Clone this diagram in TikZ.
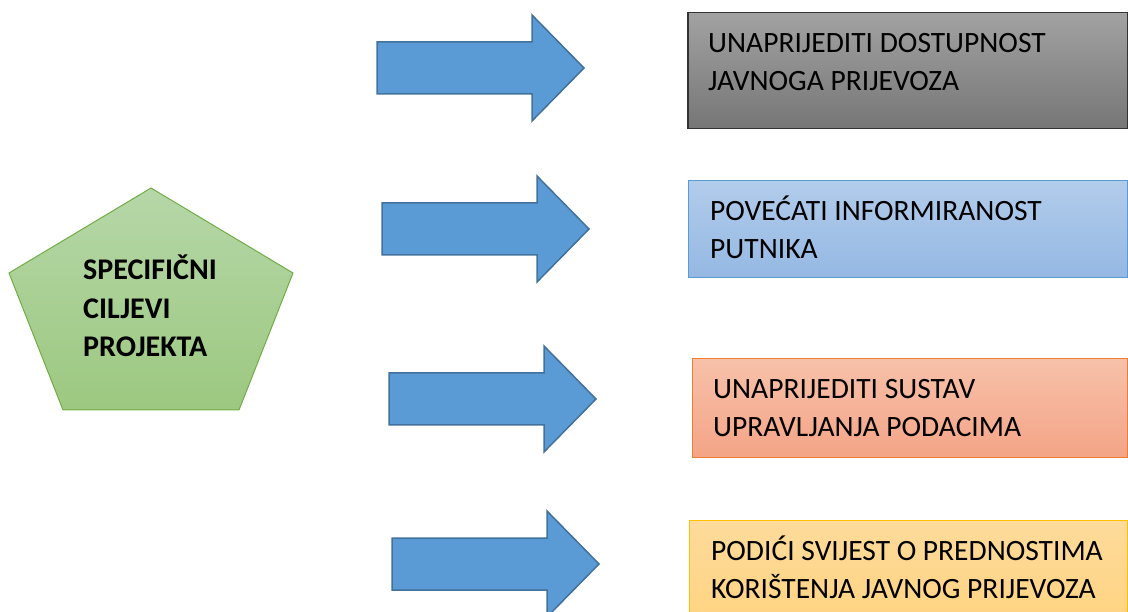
\documentclass[tikz,border=0pt]{standalone}
\usepackage{fontspec}
\setmainfont{Carlito}
\usepackage{tikz}
\usetikzlibrary{calc,positioning}

\definecolor{arrowfill}{HTML}{5B9BD5}
\definecolor{arrowline}{HTML}{41719C}
\definecolor{grayline}{HTML}{333333}
\definecolor{blueline}{HTML}{5B9BD5}
\definecolor{orangeline}{HTML}{ED7D31}
\definecolor{goldline}{HTML}{FFC000}
\definecolor{greenline}{HTML}{70AD47}
\newcommand{\goalstrut}{\rule{0pt}{26.6pt}}

\begin{document}
\begin{tikzpicture}[x=1pt, y=-1pt,
	goalbox/.style = {anchor=north west, inner sep=0pt, line width=1pt},
	goaltext/.style = {anchor=north west, inner sep=0pt, align=left, text=black,
						font=\fontsize{29.5}{38}\selectfont},
	bigarrow/.style = {fill=arrowfill, draw=arrowline, line width=1.5pt, line join=miter}, ]
			\useasboundingbox (0,0) rectangle (1128,612);
			\clip (0,0) rectangle (1128,612);
			% pentagon
			\draw [greenline, line width=1pt, top color={rgb,255:red,182;green,215;blue,168}, bottom color={rgb,255:red,156;green,200;blue,128}]
				(151,188) -- (293,273) -- (239,410) -- (63,410) -- (9,273) -- cycle;
			\node [goaltext, font=\fontsize{30}{38.5}\selectfont\bfseries] (spec) at (83,253) {\goalstrut SPECIFIČNI\\CILJEVI\\PROJEKTA};
			% arrows
			\foreach \x/\y in {377/68, 382/229, 389/399, 392/564}
				\draw [bigarrow] (\x,\y-26) -- (\x+155,\y-26) -- (\x+155,\y-53) -- (\x+207,\y)
					-- (\x+155,\y+53) -- (\x+155,\y+26) -- (\x,\y+26) -- cycle;
			% goals
			\node [goalbox, draw=grayline, line width=1.5pt, minimum width=440pt, minimum height=116pt,
				top color={rgb,255:red,162;green,162;blue,162}, bottom color={rgb,255:red,118;green,118;blue,118}] (u1) at (687,12) {};
			\node [goalbox, draw=blueline, minimum width=439pt, minimum height=97pt,
				top color={rgb,255:red,178;green,204;blue,235}, bottom color={rgb,255:red,148;green,184;blue,227}] (u2) at (688,180) {};
			\node [goalbox, draw=orangeline, minimum width=435pt, minimum height=99pt,
				top color={rgb,255:red,247;green,193;blue,170}, bottom color={rgb,255:red,244;green,164;blue,134}] (u3) at (692,358) {};
			\node [goalbox, draw=goldline, minimum width=438pt, minimum height=120pt,
				top color={rgb,255:red,254;green,219;blue,155}, bottom color={rgb,255:red,255;green,210;blue,125}] (u4) at (689,520) {};
			\node [goaltext, below right=13.5pt and 21pt of u1.north west] (t1) {\goalstrut UNAPRIJEDITI DOSTUPNOST\\JAVNOGA PRIJEVOZA};
			\node [goaltext, below right=13.5pt and 22pt of u2.north west] (t2) {\goalstrut POVEĆATI INFORMIRANOST\\PUTNIKA};
			\node [goaltext, below right=13.5pt and 21pt of u3.north west] (t3) {\goalstrut UNAPRIJEDITI SUSTAV\\UPRAVLJANJA PODACIMA};
			\node [goaltext, below right=13.5pt and 22pt of u4.north west] (t4) {\goalstrut PODIĆI SVIJEST O PREDNOSTIMA\\KORIŠTENJA JAVNOG PRIJEVOZA};
		\end{tikzpicture}
\end{document}
